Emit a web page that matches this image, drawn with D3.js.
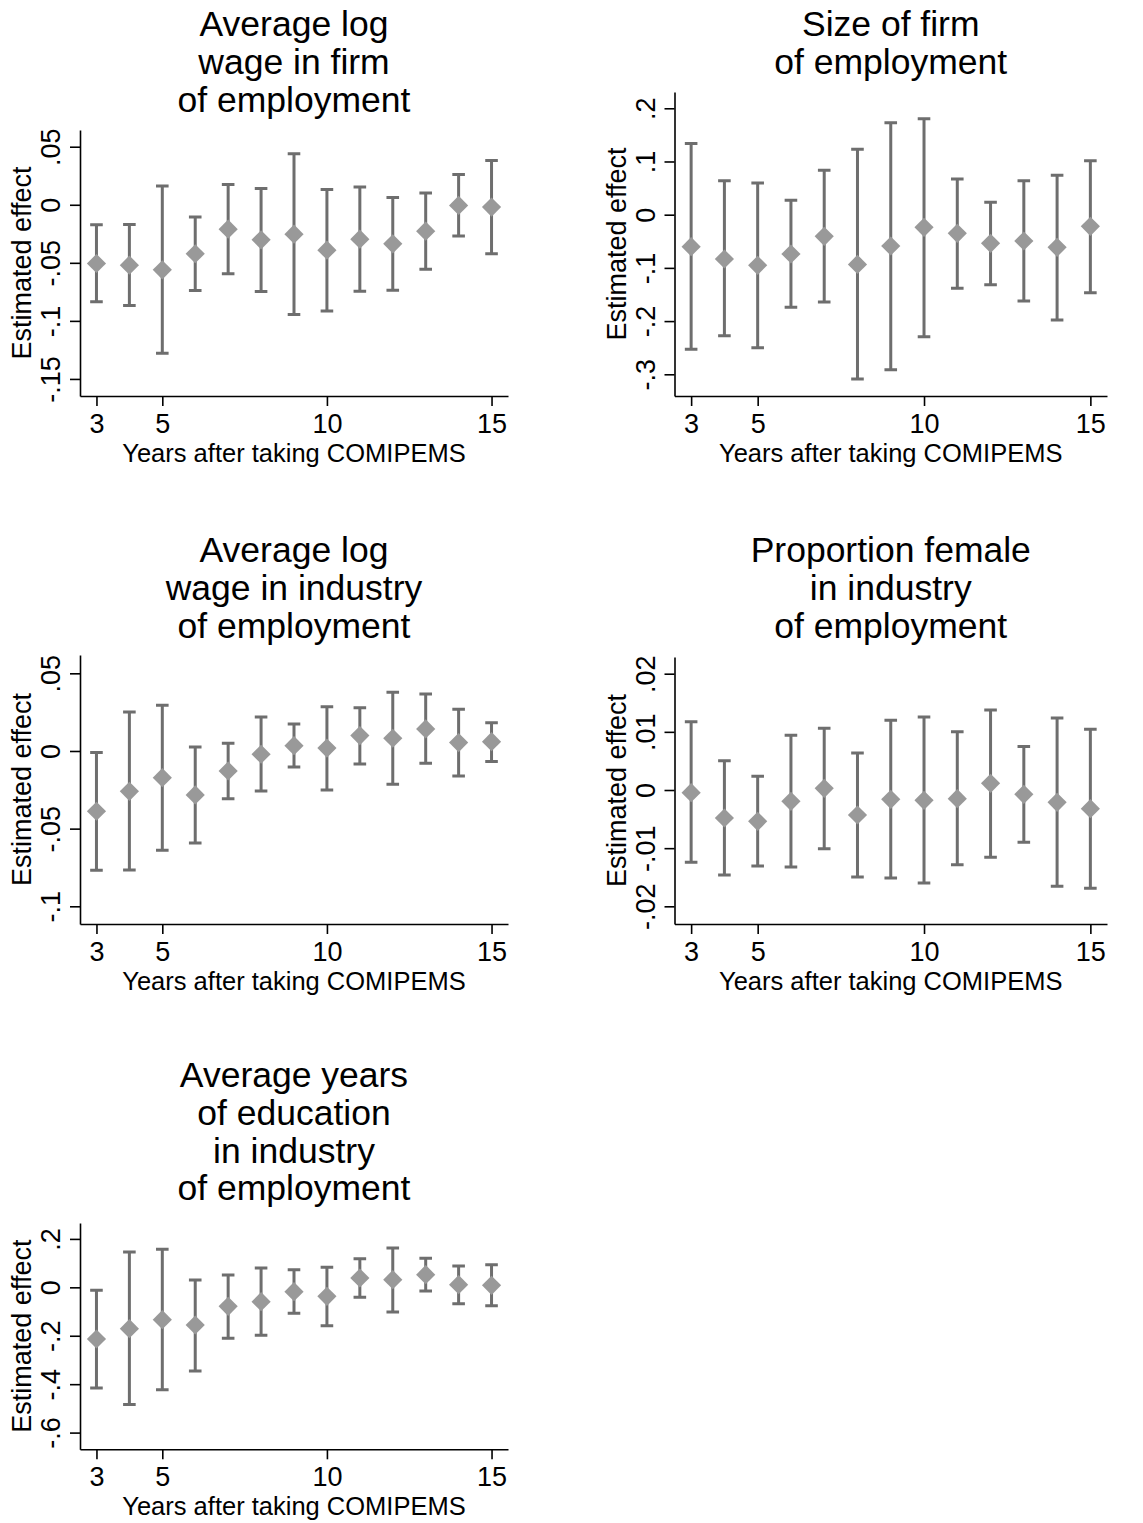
<!DOCTYPE html>
<html>
<head>
<meta charset="utf-8">
<script src="https://cdn.jsdelivr.net/npm/d3@7"></script>
<style>
  body { margin: 0; background: #fff; }
  text { font-family: "Liberation Sans", Arial, sans-serif; fill: #000; }
</style>
</head>
<body>
<div id="plot"></div>
<script>
// Years on the x axis (shared by every panel)
var years = [3, 4, 5, 6, 7, 8, 9, 10, 11, 12, 13, 14, 15];
var xTicks = [3, 5, 10, 15];

// Panel 1: Average log wage in firm of employment
var firmWageTitle = ["Average log", "wage in firm", "of employment"];
var firmWageEst = [-0.0506, -0.052, -0.056, -0.0422, -0.021, -0.0302, -0.0253, -0.0391, -0.0296, -0.0336, -0.0227, -0.0006, -0.002];
var firmWageLo  = [-0.0836, -0.0868, -0.1279, -0.0739, -0.0595, -0.0747, -0.0945, -0.0914, -0.0744, -0.0736, -0.0555, -0.027, -0.0422];
var firmWageHi  = [-0.0172, -0.017, 0.0161, -0.0106, 0.0175, 0.0141, 0.044, 0.0132, 0.0152, 0.0063, 0.0101, 0.0261, 0.0382];
var firmWageTicks = [0.05, 0, -0.05, -0.1, -0.15];
var firmWageLabels = [".05", "0", "-.05", "-.1", "-.15"];

// Panel 2: Size of firm of employment
var firmSizeTitle = ["Size of firm", "of employment"];
var firmSizeEst = [-0.0602, -0.0833, -0.0952, -0.0739, -0.0407, -0.0934, -0.0589, -0.0238, -0.0351, -0.0539, -0.0495, -0.0614, -0.0219];
var firmSizeLo  = [-0.253, -0.2274, -0.25, -0.1742, -0.1642, -0.3089, -0.2914, -0.2293, -0.1385, -0.1316, -0.1623, -0.198, -0.1466];
var firmSizeHi  = [0.134, 0.0639, 0.0595, 0.0269, 0.0833, 0.1228, 0.1729, 0.1805, 0.067, 0.0232, 0.0639, 0.0739, 0.1015];
var firmSizeTicks = [0.2, 0.1, 0, -0.1, -0.2, -0.3];
var firmSizeLabels = [".2", ".1", "0", "-.1", "-.2", "-.3"];

// Panel 3: Average log wage in industry of employment
var indWageTitle = ["Average log", "wage in industry", "of employment"];
var indWageEst = [-0.0388, -0.026, -0.0172, -0.0283, -0.0129, -0.0021, 0.0034, 0.0019, 0.0099, 0.0082, 0.0142, 0.0054, 0.006];
var indWageLo  = [-0.0768, -0.0766, -0.0639, -0.0592, -0.0307, -0.0258, -0.0103, -0.0251, -0.0084, -0.0215, -0.0079, -0.0161, -0.0067];
var indWageHi  = [-0.0009, 0.0251, 0.0294, 0.0026, 0.0049, 0.0219, 0.0174, 0.0285, 0.0279, 0.0378, 0.0367, 0.0268, 0.0182];
var indWageTicks = [0.05, 0, -0.05, -0.1];
var indWageLabels = [".05", "0", "-.05", "-.1"];

// Panel 4: Proportion female in industry of employment
var femaleTitle = ["Proportion female", "in industry", "of employment"];
var femaleEst = [-0.00046, -0.00481, -0.00539, -0.00195, 0.00029, -0.0043, -0.0016, -0.00178, -0.00149, 0.00115, -0.00074, -0.00212, -0.00321];
var femaleLo  = [-0.01244, -0.01461, -0.01307, -0.01324, -0.01009, -0.01496, -0.01513, -0.01599, -0.01284, -0.01158, -0.009, -0.01656, -0.01691];
var femaleHi  = [0.01175, 0.00504, 0.00235, 0.0094, 0.0106, 0.00636, 0.01198, 0.01255, 0.01003, 0.01375, 0.0075, 0.01238, 0.01043];
var femaleTicks = [0.02, 0.01, 0, -0.01, -0.02];
var femaleLabels = [".02", ".01", "0", "-.01", "-.02"];

// Panel 5: Average years of education in industry of employment
var eduTitle = ["Average years", "of education", "in industry", "of employment"];
var eduEst = [-0.2135, -0.1708, -0.1336, -0.1556, -0.0785, -0.0592, -0.0179, -0.0372, 0.0386, 0.0317, 0.0523, 0.011, 0.0083];
var eduLo  = [-0.416, -0.4835, -0.4229, -0.3457, -0.2107, -0.1983, -0.1074, -0.1584, -0.0413, -0.1019, -0.0152, -0.0675, -0.0758];
var eduHi  = [-0.0124, 0.146, 0.157, 0.0303, 0.051, 0.0799, 0.073, 0.0826, 0.1185, 0.1625, 0.1198, 0.0882, 0.0937];
var eduTicks = [0.2, 0, -0.2, -0.4, -0.6];
var eduLabels = [".2", "0", "-.2", "-.4", "-.6"];

var xTitle = "Years after taking COMIPEMS";
var yTitle = "Estimated effect";

// Panel layout (pixel boxes) and y-axis extents
var panels = [
  {title: firmWageTitle, est: firmWageEst, lo: firmWageLo, hi: firmWageHi, ticks: firmWageTicks, labels: firmWageLabels,
   left: 80, right: 508, top: 130, bottom: 396, ymin: -0.1647, ymax: 0.0644, titleTop: 36},
  {title: firmSizeTitle, est: firmSizeEst, lo: firmSizeLo, hi: firmSizeHi, ticks: firmSizeTicks, labels: firmSizeLabels,
   left: 674.5, right: 1107, top: 92, bottom: 396, ymin: -0.3408, ymax: 0.2306, titleTop: 36},
  {title: indWageTitle, est: indWageEst, lo: indWageLo, hi: indWageHi, ticks: indWageTicks, labels: indWageLabels,
   left: 80, right: 508, top: 655, bottom: 924, ymin: -0.1114, ymax: 0.0618, titleTop: 562},
  {title: femaleTitle, est: femaleEst, lo: femaleLo, hi: femaleHi, ticks: femaleTicks, labels: femaleLabels,
   left: 674.5, right: 1107, top: 657, bottom: 924, ymin: -0.02304, ymax: 0.02287, titleTop: 562},
  {title: eduTitle, est: eduEst, lo: eduLo, hi: eduHi, ticks: eduTicks, labels: eduLabels,
   left: 80, right: 508, top: 1223, bottom: 1449.3, ymin: -0.669, ymax: 0.2657, titleTop: 1087}
];

var svg = d3.select("#plot")
  .append("svg")
  .attr("width", 1143)
  .attr("height", 1523)
  .style("background", "#fff");

var barColor = "#6e6e6e",
    markColor = "#999999",
    capHalf = 6.3,
    diamond = 9.6;

panels.forEach(function(p) {
  var g = svg.append("g");

  var x = d3.scaleLinear().domain([2.5, 15.5]).range([p.left, p.right]);
  var y = d3.scaleLinear().domain([p.ymin, p.ymax]).range([p.bottom, p.top]);
  var cx = (p.left + p.right) / 2,
      cy = (p.top + p.bottom) / 2;

  // Title lines
  g.append("text")
    .attr("text-anchor", "middle")
    .style("font-size", "35.5px")
    .selectAll("tspan")
    .data(p.title)
    .enter().append("tspan")
      .attr("x", cx)
      .attr("y", function(d, i) { return p.titleTop + i * 37.8; })
      .text(function(d) { return d; });

  // X axis
  var xa = g.append("g")
    .attr("transform", "translate(0," + p.bottom + ")")
    .call(d3.axisBottom(x).tickValues(xTicks).tickSize(10).tickSizeOuter(0).tickPadding(10));
  xa.select(".domain").attr("stroke", "#000").attr("stroke-width", 1.6);
  xa.selectAll(".tick line").attr("stroke", "#000").attr("stroke-width", 1.6);
  xa.selectAll(".tick text")
    .attr("dy", null)
    .attr("y", 37)
    .style("font-size", "27px")
    .style("font-family", "Liberation Sans, Arial, sans-serif");

  g.append("text")
    .attr("x", cx)
    .attr("y", p.bottom + 66)
    .attr("text-anchor", "middle")
    .style("font-size", "25.5px")
    .text(xTitle);

  // Y axis
  var ya = g.append("g")
    .attr("transform", "translate(" + p.left + ",0)")
    .call(d3.axisLeft(y).tickValues(p.ticks).tickSize(10).tickSizeOuter(0)
      .tickFormat(function(d, i) { return p.labels[i]; }));
  ya.select(".domain").attr("stroke", "#000").attr("stroke-width", 1.6);
  ya.selectAll(".tick line").attr("stroke", "#000").attr("stroke-width", 1.6);
  ya.selectAll(".tick text")
    .attr("x", null).attr("dy", null)
    .attr("transform", "translate(-20,0) rotate(-90)")
    .attr("text-anchor", "middle")
    .style("font-size", "27px")
    .style("font-family", "Liberation Sans, Arial, sans-serif");

  g.append("text")
    .attr("transform", "translate(" + (p.left - 49) + "," + cy + ") rotate(-90)")
    .attr("text-anchor", "middle")
    .style("font-size", "27px")
    .text(yTitle);

  // Confidence intervals
  var rows = years.map(function(yr, i) { return {year: yr, est: p.est[i], lo: p.lo[i], hi: p.hi[i]}; });

  var bars = g.append("g").attr("stroke", barColor).attr("stroke-width", 3).attr("fill", "none");
  bars.selectAll(".ci")
    .data(rows)
    .enter().append("path")
      .attr("d", function(d) {
        var px = x(d.year), y0 = y(d.lo), y1 = y(d.hi);
        return "M" + px + "," + y0 + "V" + y1 +
               "M" + (px - capHalf) + "," + y1 + "H" + (px + capHalf) +
               "M" + (px - capHalf) + "," + y0 + "H" + (px + capHalf);
      });

  // Point estimates as diamonds
  g.append("g").selectAll(".pt")
    .data(rows)
    .enter().append("path")
      .attr("fill", markColor)
      .attr("d", function(d) {
        var px = x(d.year), py = y(d.est);
        return "M" + px + "," + (py - diamond) + "L" + (px + diamond) + "," + py +
               "L" + px + "," + (py + diamond) + "L" + (px - diamond) + "," + py + "Z";
      });
});
</script>
</body>
</html>
